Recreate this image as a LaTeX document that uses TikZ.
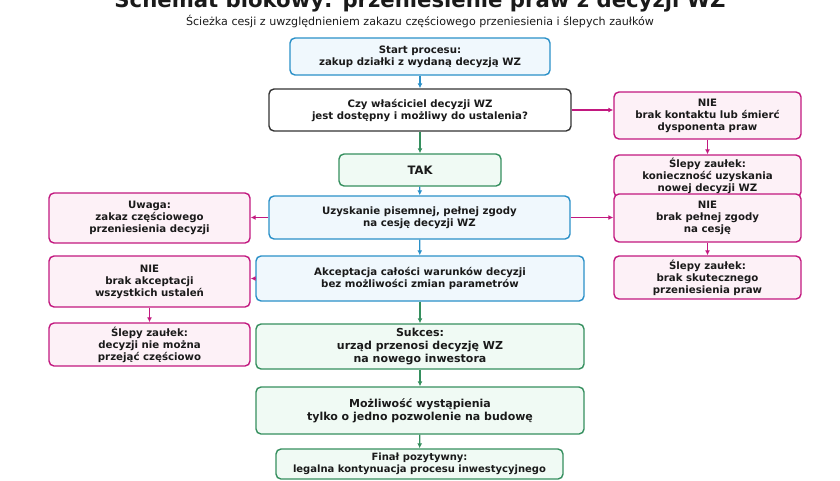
\documentclass[tikz,border=0pt]{standalone}
\usepackage{fontspec}
\setmainfont{DejaVu Sans}
\usetikzlibrary{arrows.meta}
\definecolor{bluec}{HTML}{2A90C8}
\definecolor{bluef}{HTML}{F0F8FD}
\definecolor{magc}{HTML}{C2187F}
\definecolor{magf}{HTML}{FDF1F7}
\definecolor{grnc}{HTML}{358F5E}
\definecolor{grnf}{HTML}{F0FAF4}
\definecolor{grayc}{HTML}{333333}
\definecolor{txt}{HTML}{1A1A1A}
\tikzset{
  box/.style={draw, rounded corners=5pt, line width=1.4pt, align=center, inner sep=2pt,
    font=\bfseries\fontsize{10.2}{12}\selectfont, text=txt},
  bluebox/.style={box, draw=bluec, fill=bluef},
  magbox/.style={box, draw=magc, fill=magf},
  grnbox/.style={box, draw=grnc, fill=grnf},
  graybox/.style={box, draw=grayc, fill=white},
  bigtxt/.style={font=\bfseries\fontsize{11}{13}\selectfont},
  sz/.style n args={2}{minimum width=#1, minimum height=#2},
  arr/.style={line width=1.2pt, -{Latex[length=5pt,width=5pt]}},
  barr/.style={arr, draw=bluec},
  marr/.style={arr, draw=magc},
  garr/.style={arr, draw=grnc},
}
\begin{document}
\begin{tikzpicture}[x=1pt,y=-1pt]
\useasboundingbox (0,0) rectangle (840,480);
\node[font=\bfseries\fontsize{21.2}{24}\selectfont, text=txt, anchor=base] (title) at (420,7.5) {Schemat blokowy: przeniesienie praw z decyzji WZ};
\node[font=\fontsize{11.1}{13}\selectfont, text=txt] (sub) at (420,22) {Ścieżka cesji z uwzględnieniem zakazu częściowego przeniesienia i ślepych zaułków};

\node[bluebox, sz={260pt}{37pt}] (start) at (420,56.5) {Start procesu:\\zakup działki z wydaną decyzją WZ};
\node[graybox, sz={302pt}{42pt}] (q) at (420,110) {Czy właściciel decyzji WZ\\jest dostępny i możliwy do ustalenia?};
\node[magbox, sz={187pt}{47pt}] (nie1) at (707.5,115.5) {NIE\\brak kontaktu lub śmierć\\dysponenta praw};
\node[grnbox, sz={162pt}{32pt}, font=\bfseries\fontsize{11.6}{13}\selectfont] (tak) at (420,170) {TAK};
\node[magbox, sz={187pt}{42pt}] (sl1) at (707.5,176) {Ślepy zaułek:\\konieczność uzyskania\\nowej decyzji WZ};
\node[bluebox, sz={301pt}{43pt}] (uzy) at (419.5,217.5) {Uzyskanie pisemnej, pełnej zgody\\na cesję decyzji WZ};
\node[magbox, sz={187pt}{48pt}] (nie2) at (707.5,218) {NIE\\brak pełnej zgody\\na cesję};
\node[magbox, sz={201pt}{50pt}] (uwaga) at (149.5,218) {Uwaga:\\zakaz częściowego\\przeniesienia decyzji};
\node[magbox, sz={201pt}{51pt}] (nie3) at (149.5,281.5) {NIE\\brak akceptacji\\wszystkich ustaleń};
\node[bluebox, sz={328pt}{45pt}] (akc) at (420,278.5) {Akceptacja całości warunków decyzji\\bez możliwości zmian parametrów};
\node[magbox, sz={187pt}{43pt}] (sl3) at (707.5,277.5) {Ślepy zaułek:\\brak skutecznego\\przeniesienia praw};
\node[magbox, sz={201pt}{43pt}] (sl2) at (149.5,344.5) {Ślepy zaułek:\\decyzji nie można\\przejąć częściowo};
\node[grnbox, sz={328pt}{45pt}, bigtxt] (suk) at (420,346.5) {Sukces:\\urząd przenosi decyzję WZ\\na nowego inwestora};
\node[grnbox, sz={328pt}{47pt}, bigtxt] (moz) at (420,410.5) {Możliwość wystąpienia\\tylko o jedno pozwolenie na budowę};
\node[grnbox, sz={287pt}{30pt}, font=\bfseries\fontsize{10}{11.5}\selectfont] (fin) at (419.5,464) {Finał pozytywny:\\legalna kontynuacja procesu inwestycyjnego};

\draw[barr] (start) -- (q);
\draw[garr] (q) -- (tak);
\draw[marr] (q.east) -- (q.east -| nie1.west);
\draw[marr] (nie1) -- (sl1);
\draw[barr] (tak) -- (uzy);
\draw[marr] (uzy.west) -- (uzy.west -| uwaga.east);
\draw[marr] (uzy.east) -- (uzy.east -| nie2.west);
\draw[marr] (nie2) -- (sl3);
\draw[barr] (uzy) -- (akc);
\draw[marr] (akc.west) -- (akc.west -| nie3.east);
\draw[marr] (nie3) -- (sl2);
\draw[garr] (akc) -- (suk);
\draw[garr] (suk) -- (moz);
\draw[garr] (moz) -- (fin);
\end{tikzpicture}
\end{document}
